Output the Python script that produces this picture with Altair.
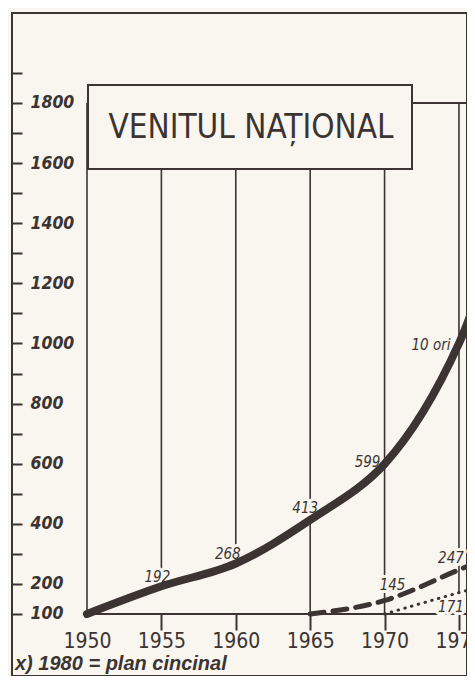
import altair as alt
import pandas as pd

# ---------------- data ----------------
years_main = [1950, 1955, 1960, 1965, 1970, 1975, 1980]
venit_main = [100, 192, 268, 413, 599, 1000, 1800]
labels_main = ["", "192", "268", "413", "599", "10 ori", ""]

years_b = [1965, 1970, 1975, 1980]
venit_b = [100, 145, 247, 350]
labels_b = ["", "145", "247", ""]

years_c = [1970, 1975, 1980]
venit_c = [100, 171, 240]
labels_c = ["", "171", ""]

x_ticks = [1950, 1955, 1960, 1965, 1970, 1975]
y_ticks = list(range(100, 2000, 100))
base_value = 100
frame_top_value = 1800
title_text = "VENITUL NAȚIONAL"
note_text = "x) 1980 = plan cincinal"

# ---------------- style ----------------
INK = "#3b3432"
BG = "#f9f6f0"
NARROW = "DejaVu Sans Condensed, sans-serif"
W, H = 455, 663
X_DOMAIN = [1944.96, 1975.54]
Y_DOMAIN = [-106.3, 2099.4]

# label offsets (pixels) keyed by label text
label_offsets = {
    "192": (-4, -9), "268": (-8, -9), "413": (-5, -12), "599": (-17, -2),
    "10 ori": (-28, 2), "145": (8, -15), "247": (-8, -12), "171": (-8, 14),
}

# ---------------- tables ----------------
series = pd.concat([
    pd.DataFrame({"an": years_main, "v": venit_main, "lab": labels_main, "s": "A"}),
    pd.DataFrame({"an": years_b, "v": venit_b, "lab": labels_b, "s": "B"}),
    pd.DataFrame({"an": years_c, "v": venit_c, "lab": labels_c, "s": "C"}),
], ignore_index=True)

grid = (series[series["an"].isin(x_ticks)]
        .groupby("an", as_index=False)["v"].min()
        .rename(columns={"v": "low"}))
grid["top"] = frame_top_value

frame = pd.DataFrame({"a": [min(years_main)], "b": [max(years_main)],
                      "base": [base_value], "top": [frame_top_value]})

xscale = alt.Scale(domain=X_DOMAIN, nice=False, zero=False)
yscale = alt.Scale(domain=Y_DOMAIN, nice=False, zero=False)

xaxis = alt.Axis(orient="bottom", offset=-62, values=x_ticks, format="d",
                 domain=False, grid=False, tickSize=16, tickWidth=2, tickColor=INK,
                 tickOpacity={"condition": {"test": "datum.value === 1950", "value": 0}, "value": 1},
                 labelFont=NARROW, labelFontSize=21, labelColor=INK, labelPadding=0,
                 labelFlush=False, labelOverlap=False, title=None)
yaxis = alt.Axis(orient="right", offset=-W, values=y_ticks, format="d",
                 domain=False, grid=False, tickSize=10, tickWidth=2, tickColor=INK,
                 labelExpr="(datum.value == 100 || (datum.value % 200 == 0 && datum.value <= 1800)) ? datum.label : ''",
                 labelFont=NARROW, labelFontSize=17.5, labelFontStyle="italic", labelFontWeight="bold",
                 labelColor=INK, labelPadding=8, labelAlign="left", labelBaseline="middle",
                 labelFlush=False, labelOverlap=False, title=None)


def X(field):
    return alt.X(field, type="quantitative", scale=xscale, axis=xaxis)


def Y(field):
    return alt.Y(field, type="quantitative", scale=yscale, axis=yaxis)


layers = []

# frame top line and baseline
layers.append(alt.Chart(frame).mark_rule(color=INK, strokeWidth=2, clip=True).encode(
    x=X("a"), x2="b", y=Y("top")))
layers.append(alt.Chart(frame).mark_rule(color=INK, strokeWidth=2, clip=True).encode(
    x=X("a"), x2="b", y=Y("base")))

# vertical year lines
layers.append(alt.Chart(grid).mark_rule(color=INK, strokeWidth=1.6, clip=True).encode(
    x=X("an"), y=Y("low"), y2="top"))

# title box
layers.append(alt.Chart(frame).mark_rect(fill=BG, stroke=INK, strokeWidth=2).encode(
    x=alt.value(76), x2=alt.value(400), y=alt.value(72), y2=alt.value(156)))
layers.append(alt.Chart(frame).mark_text(text=title_text, font=NARROW, fontSize=33,
                                         color=INK, align="center", baseline="middle").encode(
    x=alt.value(239), y=alt.value(115)))

# label halos (break the year lines around numbers)
lab_rows = series[series["lab"] != ""]
for _, r in lab_rows.iterrows():
    dx, dy = label_offsets[r["lab"]]
    layers.append(alt.Chart(pd.DataFrame([r])).mark_text(
        font=NARROW, fontSize=15, fontStyle="italic", color=BG, stroke=BG, strokeWidth=6,
        strokeJoin="round", dx=dx, dy=dy, align="center", baseline="middle").encode(
        x=X("an"), y=Y("v"), text="lab:N"))

# series
layers.append(alt.Chart(series[series["s"] == "A"]).mark_line(
    color=INK, strokeWidth=8, interpolate="catmull-rom", strokeCap="round", clip=True).encode(
    x=X("an"), y=Y("v")))
layers.append(alt.Chart(series[series["s"] == "B"]).mark_line(
    color=INK, strokeWidth=5, interpolate="monotone", strokeDash=[14, 9], strokeCap="round",
    clip=True).encode(x=X("an"), y=Y("v")))
layers.append(alt.Chart(series[series["s"] == "C"]).mark_line(
    color=INK, strokeWidth=3, interpolate="monotone", strokeDash=[0.5, 6.5], strokeCap="round",
    clip=True).encode(x=X("an"), y=Y("v")))

# labels
for _, r in lab_rows.iterrows():
    dx, dy = label_offsets[r["lab"]]
    layers.append(alt.Chart(pd.DataFrame([r])).mark_text(
        font=NARROW, fontSize=15, fontStyle="italic", color=INK,
        dx=dx, dy=dy, align="center", baseline="middle").encode(
        x=X("an"), y=Y("v"), text="lab:N"))

# footnote
layers.append(alt.Chart(frame).mark_text(text=note_text, font="Liberation Sans", fontSize=20,
                                         fontStyle="italic", fontWeight="bold", color=INK,
                                         align="left", baseline="alphabetic").encode(
    x=alt.value(3), y=alt.value(657)))

chart = alt.layer(*layers).properties(
    width=W, height=H,
    autosize=alt.AutoSizeParams(type="none"),
    padding={"left": 4, "top": 5, "right": 0, "bottom": 0},
    background=BG,
).configure_view(stroke=INK, strokeWidth=2)

chart.save("out.html", embed_options={"renderer": "svg", "actions": False})
